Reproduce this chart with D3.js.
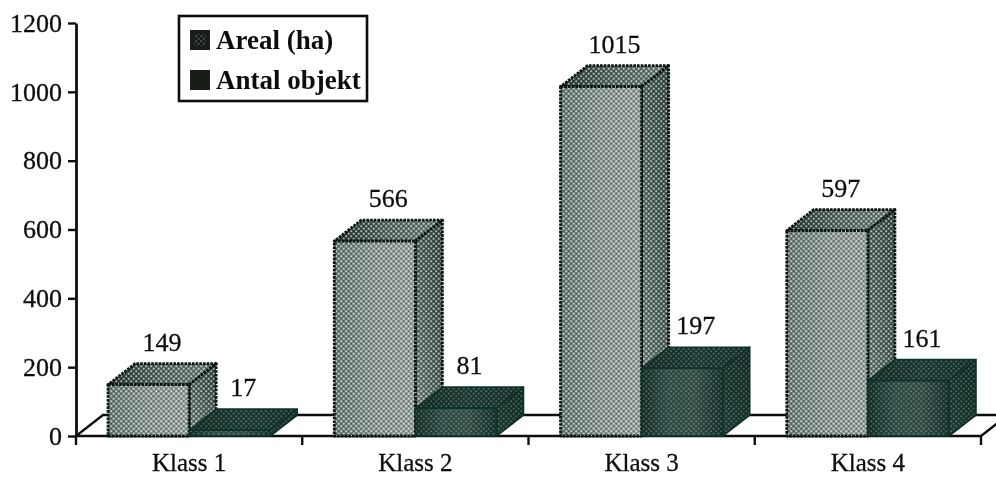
<!DOCTYPE html>
<html>
<head>
<meta charset="utf-8">
<script src="https://cdn.jsdelivr.net/npm/d3@7"></script>
<style>
html, body { margin: 0; padding: 0; background: #fff; overflow: hidden; }
svg { display: block; font-family: "Liberation Serif", serif; }
</style>
</head>
<body>
<script>
const categories = ["Klass 1", "Klass 2", "Klass 3", "Klass 4"];
const seriesNames = ["Areal (ha)", "Antal objekt"];
const areal = [149, 566, 1015, 597];
const antal = [17, 81, 197, 161];
const yTicks = [0, 200, 400, 600, 800, 1000, 1200];

const width = 996, height = 478;
const dx = 27, dy = 21; // depth of the 3d boxes
const x0 = 76, x1 = 981, yBase = 436, yTop = 23;

const svg = d3.select("body").append("svg")
    .attr("width", width)
    .attr("height", height);

const x = d3.scaleBand().domain(categories).range([x0, x1]);
const barX = d3.scaleBand().domain(seriesNames).range([0, x.bandwidth()]).paddingOuter(0.395).paddingInner(0);
const y = d3.scaleLinear().domain([0, 1200]).range([yBase, yTop]);

const defs = svg.append("defs");
defs.append("filter").attr("id", "scan")
    .attr("x", "-5%").attr("y", "-5%").attr("width", "110%").attr("height", "110%")
    .append("feGaussianBlur").attr("stdDeviation", 0.5);

function gradient(id, stops, horizontal) {
    const g = defs.append("linearGradient").attr("id", id)
        .attr("x1", 0).attr("y1", horizontal ? 0 : 1)
        .attr("x2", 1).attr("y2", 0);
    stops.forEach((c, i) => g.append("stop").attr("offset", i / (stops.length - 1)).attr("stop-color", c));
}
gradient("lightFront", ["#66786f", "#86948f", "#939f9b"], true);
gradient("lightTop", ["#24362f", "#566862", "#6f807b"], true);
gradient("lightSide", ["#75857f", "#4f625d", "#33463f"], false);
gradient("darkFront", ["#132e27", "#2f4d46", "#324e47", "#14302a"], true);
gradient("darkTop", ["#0f2a23", "#1c3a33", "#12302a"], true);
gradient("darkSide", ["#203d36", "#15332b", "#102c26"], false);

const dots = defs.append("pattern").attr("id", "dots")
    .attr("patternUnits", "userSpaceOnUse").attr("width", 5).attr("height", 5);
dots.append("circle").attr("cx", 1.2).attr("cy", 1.2).attr("r", 1).attr("fill", "#fff").attr("fill-opacity", 0.6);
dots.append("circle").attr("cx", 3.7).attr("cy", 3.7).attr("r", 1).attr("fill", "#fff").attr("fill-opacity", 0.6);
dots.append("circle").attr("cx", 3.7).attr("cy", 1.2).attr("r", 0.85).attr("fill", "#000").attr("fill-opacity", 0.3);
dots.append("circle").attr("cx", 1.2).attr("cy", 3.7).attr("r", 0.85).attr("fill", "#000").attr("fill-opacity", 0.3);

const plot = svg.append("g").attr("filter", "url(#scan)");

// floor
plot.append("path")
    .attr("d", `M${x0},${yBase}L${x1},${yBase}L${x1 + dx},${yBase - dy}L${x0 + dx},${yBase - dy}Z`)
    .attr("fill", "#fff").attr("stroke", "#111").attr("stroke-width", 2.4);

function face(g, pts, fill, opts) {
    const d = "M" + pts.join("L") + "Z";
    g.append("path").attr("d", d).attr("fill", `url(#${fill})`);
    g.append("path").attr("d", d).attr("fill", "url(#dots)")
        .attr("fill-opacity", opts.dotOpacity);
    g.append("path").attr("d", d).attr("fill", "none")
        .attr("stroke", opts.edge).attr("stroke-width", opts.edgeWidth)
        .attr("stroke-dasharray", opts.dash).attr("stroke-linejoin", "round");
}

function box(g, cat, name, value, kind) {
    const left = x(cat) + barX(name);
    const right = left + barX.bandwidth();
    const top = y(value);
    const opts = kind === "light"
        ? {dotOpacity: 1, edge: "#0a1411", edgeWidth: 2.8, dash: "2.6 1.1"}
        : {dotOpacity: 0.4, edge: "#11302a", edgeWidth: 1.6, dash: null};
    face(g, [[left, top], [right, top], [right + dx, top - dy], [left + dx, top - dy]], kind + "Top", opts);
    face(g, [[right, top], [right + dx, top - dy], [right + dx, yBase - dy], [right, yBase]], kind + "Side", opts);
    face(g, [[left, top], [right, top], [right, yBase], [left, yBase]], kind + "Front", opts);
}

categories.forEach((cat, i) => {
    const g = plot.append("g");
    box(g, cat, seriesNames[0], areal[i], "light");
    box(g, cat, seriesNames[1], antal[i], "dark");
});

// value labels above each box
const labels = plot.append("g").attr("font-size", 26).attr("fill", "#111").attr("text-anchor", "middle")
    .attr("stroke", "#111").attr("stroke-width", 0.3);
seriesNames.forEach((name, s) => {
    const values = s === 0 ? areal : antal;
    categories.forEach((cat, i) => {
        labels.append("text")
            .attr("x", x(cat) + barX(name) + barX.bandwidth() / 2 + dx / 2)
            .attr("y", y(values[i]) - dy - 13)
            .text(values[i]);
    });
});

// axes
const yAxis = plot.append("g").attr("transform", `translate(${x0},0)`)
    .call(d3.axisLeft(y).tickValues(yTicks).tickFormat(d3.format("d")).tickSize(8).tickPadding(6).tickSizeOuter(0));
yAxis.select(".domain").attr("stroke", "#111").attr("stroke-width", 2.8);
yAxis.selectAll(".tick line").attr("stroke", "#111").attr("stroke-width", 2.4);
yAxis.selectAll("text").attr("font-size", 26).attr("font-family", "Liberation Serif").attr("fill", "#111")
    .attr("stroke", "#111").attr("stroke-width", 0.3);

const xAxis = plot.append("g").attr("transform", `translate(0,${yBase})`)
    .call(d3.axisBottom(x).tickSize(0).tickPadding(17));
xAxis.select(".domain").remove();
xAxis.selectAll("text").attr("font-size", 25).attr("font-family", "Liberation Serif").attr("fill", "#111")
    .attr("stroke", "#111").attr("stroke-width", 0.3);

const edgeTicks = [x0].concat(categories.map(c => x(c) + x.step()));
plot.append("g").selectAll("line").data(edgeTicks).join("line")
    .attr("x1", d => d).attr("x2", d => d)
    .attr("y1", yBase).attr("y2", yBase + 9)
    .attr("stroke", "#111").attr("stroke-width", 2.4);

// legend
const legend = plot.append("g");
legend.append("rect").attr("x", 179).attr("y", 16).attr("width", 188).attr("height", 85)
    .attr("fill", "#fff").attr("stroke", "#111").attr("stroke-width", 2.6);
seriesNames.forEach((name, i) => {
    const ly = 30 + i * 40;
    legend.append("rect").attr("x", 190).attr("y", ly).attr("width", 20).attr("height", 20)
        .attr("fill", "#151a18");
    if (i === 0) legend.append("rect").attr("x", 194).attr("y", ly + 4).attr("width", 12).attr("height", 12)
        .attr("fill", "url(#dots)").attr("fill-opacity", 0.5);
    legend.append("text").attr("x", 216).attr("y", ly + 19)
        .attr("font-size", 27).attr("font-weight", "bold").attr("fill", "#111")
        .text(name);
});
</script>
</body>
</html>
